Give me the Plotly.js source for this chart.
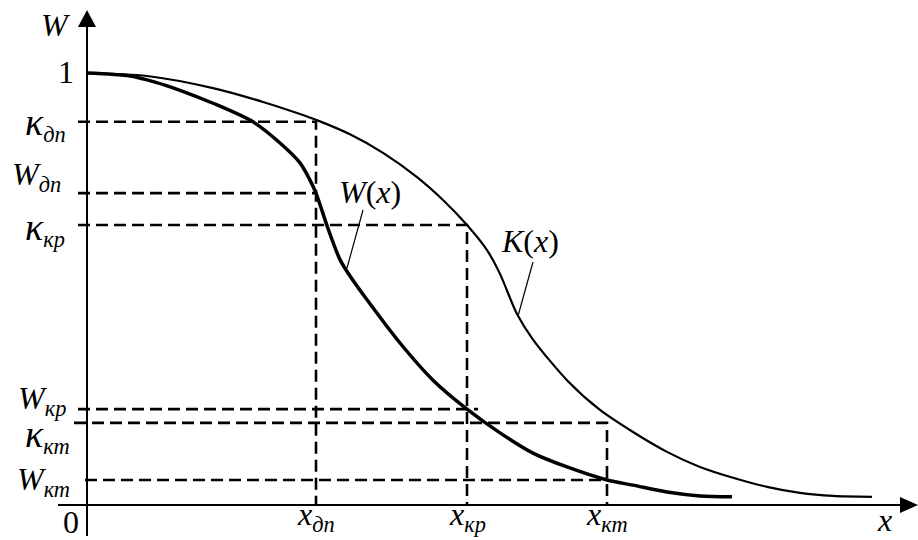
<!DOCTYPE html>
<html>
<head>
<meta charset="utf-8">
<script src="https://cdn.plot.ly/plotly-3.0.1.min.js"></script>
<style>html,body{margin:0;padding:0;background:#fff}</style>
</head>
<body>
<div id="chart" style="width:918px;height:540px"></div>
<script>
// W(x) - thick curve
const wX = [0, 0.43, 0.68, 0.93, 1.26, 1.66, 1.93, 2.13, 2.23, 2.29, 2.41, 2.53, 2.63, 2.80, 3.13, 3.46, 3.80, 4.13, 4.46, 4.80, 5.20, 5.46, 5.80, 6.13, 6.45]
const wY = [1.0, 0.993, 0.979, 0.960, 0.930, 0.887, 0.838, 0.792, 0.752, 0.722, 0.640, 0.568, 0.530, 0.475, 0.375, 0.289, 0.222, 0.167, 0.120, 0.088, 0.058, 0.046, 0.030, 0.021, 0.019]
// K(x) - thin curve
const kX = [0, 0.60, 1.26, 1.76, 2.13, 2.33, 2.63, 2.96, 3.30, 3.56, 3.80, 4.00, 4.13, 4.30, 4.46, 4.80, 5.13, 5.46, 5.80, 6.13, 6.46, 6.80, 7.13, 7.46, 7.85]
const kY = [1.0, 0.993, 0.965, 0.933, 0.905, 0.888, 0.858, 0.815, 0.759, 0.706, 0.648, 0.590, 0.535, 0.442, 0.383, 0.289, 0.220, 0.169, 0.123, 0.088, 0.063, 0.042, 0.028, 0.021, 0.019]

// marked points on x
const xMarks = [2.29, 3.80, 5.20]
const xMarkNames = ['<i>x</i><sub><i>дп</i></sub>', '<i>x</i><sub><i>кр</i></sub>', '<i>x</i><sub><i>кт</i></sub>']
// K(x) at the marks
const kLevels = [0.887, 0.648, 0.190]
const kap = '<span style="font-size:38px"><i>κ</i></span>'
const kLevelNames = [kap + '<sub><i>дп</i></sub>', kap + '<sub><i>кр</i></sub>', kap + '<sub><i>кт</i></sub>']
// W(x) at the marks
const wLevels = [0.722, 0.222, 0.058]
const wLevelNames = ['<i>W</i><sub><i>дп</i></sub>', '<i>W</i><sub><i>кр</i></sub>', '<i>W</i><sub><i>кт</i></sub>']

// pixel -> data helpers for the hand drawn bits (axes, arrows, leaders, labels)
const X = px => (px - 87) / 100
const Y = py => (505 - py) / 432

const fam = 'Liberation Serif'
const dashStyle = {color: '#000', width: 2.6, dash: '12px,6px'}

let traces = []
// dashed guides
let kStart = [X(78), X(78), X(74)]
let wStart = [X(78), X(78), X(85)]
let wOver = [0.01, 0.11, 0.02]
xMarks.forEach((xm, i) => {
    traces.push({x: [kStart[i], xm, xm], y: [kLevels[i], kLevels[i], 0], mode: 'lines', line: dashStyle, hoverinfo: 'skip'})
    traces.push({x: [wStart[i], xm + wOver[i]], y: [wLevels[i], wLevels[i]], mode: 'lines', line: dashStyle, hoverinfo: 'skip'})
})
traces.push({x: kX, y: kY, mode: 'lines', line: {color: '#000', width: 2.2, shape: 'spline', smoothing: 0.8}, name: 'K(x)'})
traces.push({x: wX, y: wY, mode: 'lines', line: {color: '#000', width: 3.5, shape: 'spline', smoothing: 0.8}, name: 'W(x)'})

let shapes = [
    // axes
    {type: 'line', x0: X(58), x1: X(902), y0: 0, y1: 0, line: {color: '#000', width: 2}},
    {type: 'line', x0: 0, x1: 0, y0: Y(536), y1: Y(26), line: {color: '#000', width: 2}},
    // arrows
    {type: 'path', path: `M${X(918)},0 L${X(900)},${Y(497)} L${X(900)},${Y(513)} Z`, fillcolor: '#000', line: {width: 0}},
    {type: 'path', path: `M0,${Y(10)} L${X(78)},${Y(27)} L${X(96)},${Y(27)} Z`, fillcolor: '#000', line: {width: 0}},
    // leaders
    {type: 'line', x0: X(363), y0: Y(210), x1: X(347), y1: Y(268), line: {color: '#000', width: 1.2}},
    {type: 'line', x0: X(533), y0: Y(262), x1: X(518), y1: Y(316), line: {color: '#000', width: 1.2}},
]

let ann = [
    {x: X(56), y: Y(25), text: '<i>W</i>'},
    {x: X(66), y: Y(72), text: '1'},
    {x: X(71), y: Y(522), text: '0'},
    {x: X(884), y: Y(520), text: '<i>x</i>'},
    {x: X(370), y: Y(192), text: '<i>W</i>(<i>x</i>)'},
    {x: X(530), y: Y(241), text: '<i>K</i>(<i>x</i>)'},
]
let kRight = [68, 67, 72], kMid = [124, 229, 436]
let wRight = [63, 68, 72], wMid = [176, 400, 481]
kLevelNames.forEach((t, i) => ann.push({x: X(kRight[i]), y: Y(kMid[i]), text: t, xanchor: 'right'}))
wLevelNames.forEach((t, i) => ann.push({x: X(wRight[i]), y: Y(wMid[i]), text: t, xanchor: 'right'}))
xMarkNames.forEach((t, i) => ann.push({x: xMarks[i], y: Y(539), text: t, yanchor: 'bottom'}))
ann = ann.map(a => Object.assign({showarrow: false, font: {family: fam, size: 32, color: '#000'}, xanchor: 'center', yanchor: 'middle'}, a))

let layout = {
    width: 918,
    height: 540,
    margin: {l: 0, r: 0, t: 0, b: 0},
    paper_bgcolor: '#fff',
    plot_bgcolor: '#fff',
    font: {family: fam, size: 32, color: '#000'},
    showlegend: false,
    xaxis: {range: [X(0), X(918)], visible: false, fixedrange: true},
    yaxis: {range: [Y(540), Y(0)], visible: false, fixedrange: true},
    shapes: shapes,
    annotations: ann,
}
Plotly.newPlot('chart', traces, layout, {staticPlot: true})
</script>
</body>
</html>
